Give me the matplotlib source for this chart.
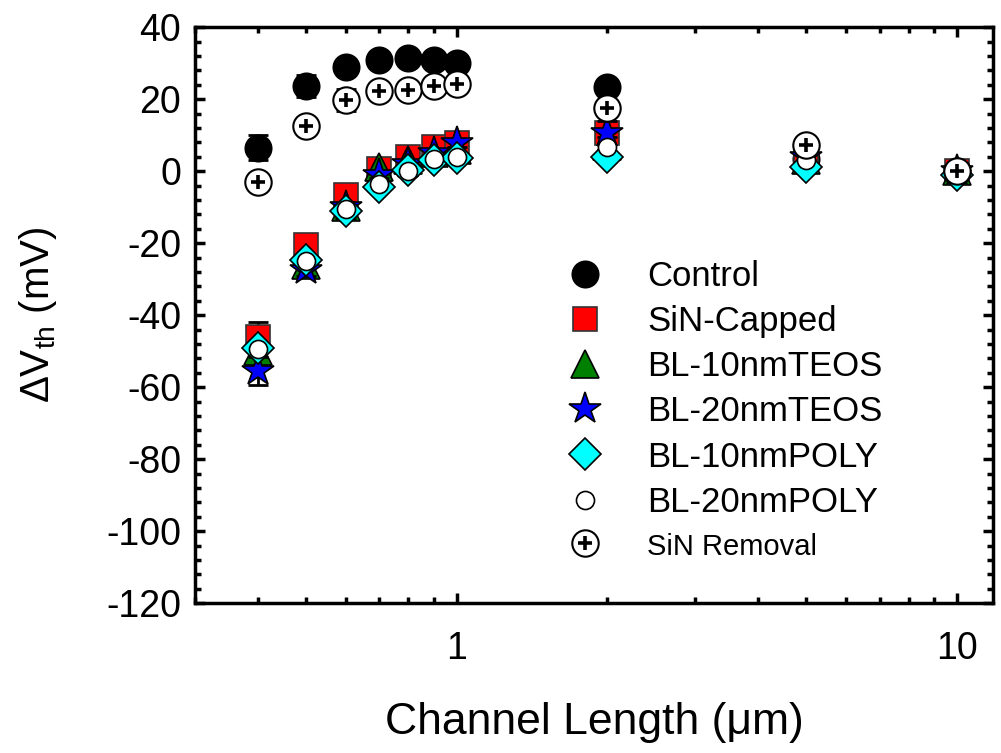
import numpy as np
import matplotlib
matplotlib.use("Agg")
import matplotlib.pyplot as plt
from matplotlib.ticker import MultipleLocator, FixedLocator, FixedFormatter, NullFormatter

plt.rcParams['font.family'] = ['Liberation Sans', 'DejaVu Sans']
plt.rcParams['axes.unicode_minus'] = False

# channel lengths (um)
L_short = [0.4, 0.5, 0.6, 0.7, 0.8, 0.9, 1.0, 2.0, 5.0, 10.0]

control = [6.5, 23.7, 29.0, 30.8, 31.5, 31.0, 29.9, 23.4, 3.5, 0.0]
control_err = [3.4, 3.0, 1.0, 1.0, 1.0, 1.0, 1.0, 1.0, 1.0, 0.0]

sin_capped = [-46.0, -20.6, -6.7, 0.5, 4.0, 6.8, 7.7, 10.5, 3.0, 0.0]
sin_capped_err = [4.0, 2.0, 2.0, 1.0, 1.0, 1.0, 1.0, 1.0, 1.0, 0.0]

teos10 = [-50.0, -26.0, -10.0, 1.2, 3.0, 5.0, 6.0, 7.0, 3.0, 0.0]
teos20 = [-55.5, -27.5, -10.0, -1.0, 2.0, 5.0, 7.8, 10.5, 4.0, 0.0]
teos20_err = [4.0, 1.5, 1.0, 1.0, 1.0, 1.0, 1.0, 1.0, 1.0, 0.0]

poly10 = [-49.0, -24.7, -11.0, -4.3, 0.3, 3.0, 3.6, 4.0, 1.2, -1.0]
poly20 = [-49.5, -25.0, -10.6, -3.6, 0.0, 3.3, 4.0, 6.7, 3.0, 0.0]

removal = [-3.1, 12.5, 19.7, 22.3, 22.5, 23.6, 24.2, 17.6, 7.2, 0.0]
removal_err = [1.0, 1.0, 3.0, 1.0, 1.0, 1.0, 1.0, 3.7, 1.0, 0.0]

fig = plt.figure(figsize=(10.01, 7.53), dpi=100)
ax = fig.add_axes([0.195, 0.199, 0.797, 0.765])

ekw = dict(ecolor='black', elinewidth=2, capsize=7, capthick=2, linestyle='none')

ax.errorbar(L_short, control, yerr=control_err, **ekw, zorder=2)
h1, = ax.plot(L_short, control, 'o', ms=19, mfc='black', mec='black', mew=1.2, zorder=3)

ax.errorbar(L_short, sin_capped, yerr=sin_capped_err, **ekw, zorder=3)
h2, = ax.plot(L_short, sin_capped, 's', ms=17, mfc='red', mec='#333333', mew=1.2, zorder=4)

h3, = ax.plot(L_short, teos10, '^', ms=20, mfc='green', mec='black', mew=1.2, zorder=5)

ax.errorbar(L_short, teos20, yerr=teos20_err, **ekw, zorder=5)
h4, = ax.plot(L_short, teos20, '*', ms=24, mfc='blue', mec='black', mew=1.2, zorder=6)

h5, = ax.plot(L_short, poly10, 'D', ms=16, mfc='cyan', mec='black', mew=1.2, zorder=7)
h6, = ax.plot(L_short, poly20, 'o', ms=13, mfc='white', mec='black', mew=1.2, zorder=8)

ax.errorbar(L_short, removal, yerr=removal_err, **ekw, zorder=8)
h7a, = ax.plot(L_short, removal, 'o', ms=19, mfc='white', mec='black', mew=1.5, zorder=9)
h7b, = ax.plot(L_short, removal, '+', ms=10, mec='black', mew=2.6, zorder=10)

ax.set_xscale('log')
ax.set_xlim(0.3, 11.8)
ax.set_ylim(-120, 40)

ax.xaxis.set_major_locator(FixedLocator([1, 10]))
ax.xaxis.set_major_formatter(FixedFormatter(['1', '10']))
minor_x = [0.3, 0.4, 0.5, 0.6, 0.7, 0.8, 0.9] + [2, 3, 4, 5, 6, 7, 8, 9]
ax.xaxis.set_minor_locator(FixedLocator(minor_x))
ax.xaxis.set_minor_formatter(NullFormatter())
ax.yaxis.set_major_locator(MultipleLocator(20))
ax.yaxis.set_minor_locator(MultipleLocator(4))

ax.tick_params(which='both', direction='in', top=True, right=True, labelsize=27)
ax.tick_params(which='major', length=7, width=2.5, pad=10)
ax.tick_params(which='minor', length=4, width=2.5)
ax.tick_params(axis='x', which='major', pad=20)
for s in ax.spines.values():
    s.set_linewidth(2.5)

ax.set_xlabel('Channel Length (\u03bcm)', fontsize=32, labelpad=25)
ax.set_ylabel('\u0394V$_{\\mathregular{th}}$ (mV)', fontsize=29, labelpad=34)

leg = ax.legend([h1, h2, h3, h4, h5, h6, (h7a, h7b)],
                ['Control', 'SiN-Capped', 'BL-10nmTEOS', 'BL-20nmTEOS',
                 'BL-10nmPOLY', 'BL-20nmPOLY', 'SiN Removal'],
                loc='upper left', bbox_to_anchor=(0.445, 0.62), frameon=False,
                fontsize=25, handlelength=1.2, handletextpad=1.2,
                labelspacing=0.35, borderaxespad=0)
leg.get_texts()[-1].set_fontsize(21)

fig.savefig('out.png', dpi=100)
